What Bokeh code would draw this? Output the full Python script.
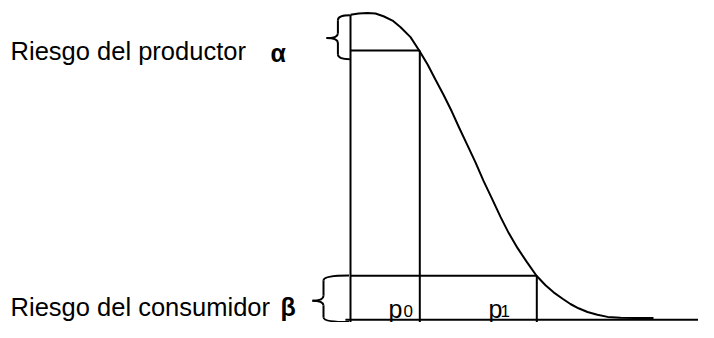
from bokeh.plotting import figure
from bokeh.models import Range1d
from bokeh.core.properties import value
from bokeh.embed import file_html
from bokeh.resources import INLINE

# ---- Data: schematic OC curve (fraction defective p vs probability of acceptance Pa)
p_curve = [0.000, 0.027, 0.057, 0.083, 0.110, 0.140, 0.167, 0.200, 0.230, 0.257,
           0.283, 0.310, 0.337, 0.363, 0.390, 0.417, 0.443, 0.470, 0.500, 0.527,
           0.557, 0.587, 0.620, 0.650, 0.677, 0.707, 0.733, 0.760, 0.790, 0.823,
           0.857, 0.900, 0.950, 1.010]
pa_curve = [0.994, 0.998, 1.000, 0.998, 0.989, 0.975, 0.953, 0.921, 0.876, 0.832,
            0.783, 0.733, 0.680, 0.624, 0.568, 0.512, 0.453, 0.398, 0.335, 0.283,
            0.233, 0.189, 0.143, 0.112, 0.089, 0.068, 0.051, 0.037, 0.025, 0.016,
            0.009, 0.006, 0.005, 0.005]

p_points = [0.231, 0.621]          # p0, p1
risk_levels = [0.877, 0.143]       # 1-alpha level, beta level
risk_labels = ["Riesgo del productor", "Riesgo del consumidor"]
risk_symbols = ["\u03b1", "\u03b2"]
p_names = ["p", "p"]
p_subs = ["0", "1"]

X0, X1 = -1.1667, 1.16
Y0, Y1 = -0.0093, 1.0404

p = figure(width=698, height=322, output_backend="svg", toolbar_location=None,
           x_range=Range1d(X0, X1), y_range=Range1d(Y0, Y1),
           min_border=0, min_border_left=0, min_border_right=0,
           min_border_top=0, min_border_bottom=0)
p.axis.visible = False
p.grid.visible = False
p.outline_line_color = None
p.background_fill_color = "white"
p.border_fill_color = "white"

LW = 2.0
C = "black"

# OC curve
p.line(p_curve, pa_curve, line_width=2.0, line_color=C)

# vertical axis and baseline
p.segment(x0=[0], y0=[pa_curve[0]], x1=[0], y1=[Y0], line_width=LW, line_color=C)
p.segment(x0=[-0.017], y0=[0], x1=[X1], y1=[0], line_width=LW, line_color=C)

# alpha / beta horizontals and p0 / p1 verticals
p.segment(x0=[0, 0], y0=risk_levels, x1=p_points, y1=risk_levels,
          line_width=LW, line_color=C)
p.segment(x0=p_points, y0=risk_levels, x1=p_points, y1=[Y0, Y0],
          line_width=LW, line_color=C)


def brace(xr, xm, xtip, yt, yc, yb, ry):
    p.quadratic(x0=[xr, xm, xtip, xm], y0=[yt, yc + ry, yc, yb + ry],
                x1=[xm, xtip, xm, xr], y1=[yt - ry, yc, yc - ry, yb],
                cx=[xm, xm, xm, xm], cy=[yt, yc, yc, yb],
                line_width=LW, line_color=C)
    p.segment(x0=[xm, xm], y0=[yt - ry, yc - ry], x1=[xm, xm], y1=[yc + ry, yb + ry],
              line_width=LW, line_color=C)


brace(-0.002, -0.042, -0.080, 0.992, 0.918, 0.849, 0.016)
brace(-0.005, -0.090, -0.127, 0.144, 0.062, -0.008, 0.016)

# Texts
FONT = value("Liberation Sans")
p.text(x=[-1.133, -1.133], y=[risk_levels[0], 0.040], text=risk_labels,
       text_font=FONT, text_font_size="25.5px", text_baseline="alphabetic",
       text_align="left", text_color=C)
p.text(x=[-0.267, -0.233], y=[risk_levels[0] - 0.008, 0.040], text=risk_symbols,
       text_font=FONT, text_font_size="25px", text_font_style="bold",
       text_baseline="alphabetic", text_align="left", text_color=C)
p.text(x=[p_points[0] - 0.104, p_points[1] - 0.161], y=[0.036, 0.036], text=p_names,
       text_font=FONT, text_font_size="25px", text_baseline="alphabetic",
       text_align="left", text_color=C)
p.text(x=[p_points[0] - 0.054, p_points[1] - 0.121], y=[0.027, 0.027], text=p_subs,
       text_font=FONT, text_font_size="17px", text_baseline="alphabetic",
       text_align="left", text_color=C)

open("out.html", "w").write(file_html(p, INLINE))
